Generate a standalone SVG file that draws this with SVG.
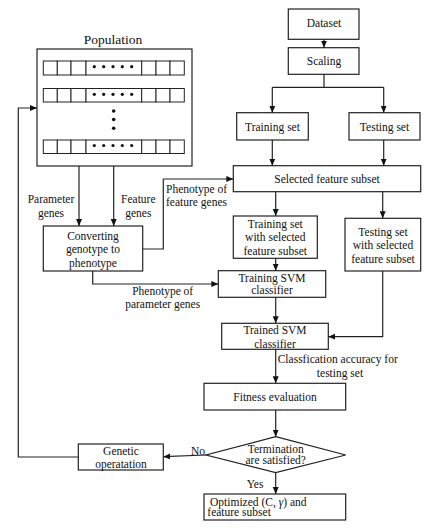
<svg xmlns="http://www.w3.org/2000/svg" width="433" height="530" viewBox="0 0 433 530">
<style>
rect,polygon.d{fill:#fff;stroke:#222;stroke-width:1.2}
.c rect{fill:#fff;stroke:#222;stroke-width:1}
text{font-family:"Liberation Serif","Times New Roman",serif;font-size:11.5px;fill:#111;text-anchor:middle;dominant-baseline:central}
.conn path{fill:none;stroke:#222;stroke-width:1.2}
.dot{fill:#111}
</style>
<defs>
<marker id="ar" markerWidth="8" markerHeight="8" refX="7" refY="4" orient="auto" markerUnits="userSpaceOnUse">
<path d="M0,1 L7,4 L0,7 Z" fill="#111"/>
</marker>
</defs>
<rect width="433" height="530" fill="#fff" style="stroke:none"/>

<g id="population">
<text x="113" y="39" style="font-size:13.5px">Population</text>
<rect x="37" y="49" width="155" height="117"/>
<g class="c">
<rect x="43.3" y="61" width="14" height="14"/><rect x="57.3" y="61" width="13.7" height="14"/><rect x="71" y="61" width="15" height="14"/><rect x="86" y="61" width="55.7" height="14"/><rect x="141.7" y="61" width="14.3" height="14"/><rect x="156" y="61" width="14" height="14"/><rect x="170" y="61" width="14.3" height="14"/>
<rect x="43.3" y="88.5" width="14" height="13.5"/><rect x="57.3" y="88.5" width="13.7" height="13.5"/><rect x="71" y="88.5" width="15" height="13.5"/><rect x="86" y="88.5" width="55.7" height="13.5"/><rect x="141.7" y="88.5" width="14.3" height="13.5"/><rect x="156" y="88.5" width="14" height="13.5"/><rect x="170" y="88.5" width="14.3" height="13.5"/>
<rect x="43.3" y="140" width="14" height="13.5"/><rect x="57.3" y="140" width="13.7" height="13.5"/><rect x="71" y="140" width="15" height="13.5"/><rect x="86" y="140" width="55.7" height="13.5"/><rect x="141.7" y="140" width="14.3" height="13.5"/><rect x="156" y="140" width="14" height="13.5"/><rect x="170" y="140" width="14.3" height="13.5"/>
</g>
<g class="dot">
<circle cx="94.3" cy="66.7" r="1.6"/><circle cx="103.7" cy="66.7" r="1.6"/><circle cx="113" cy="66.7" r="1.6"/><circle cx="122.3" cy="66.7" r="1.6"/><circle cx="131.7" cy="66.7" r="1.6"/>
<circle cx="94.3" cy="94.3" r="1.6"/><circle cx="103.7" cy="94.3" r="1.6"/><circle cx="113" cy="94.3" r="1.6"/><circle cx="122.3" cy="94.3" r="1.6"/><circle cx="131.7" cy="94.3" r="1.6"/>
<circle cx="94.3" cy="145.5" r="1.6"/><circle cx="103.7" cy="145.5" r="1.6"/><circle cx="113" cy="145.5" r="1.6"/><circle cx="122.3" cy="145.5" r="1.6"/><circle cx="131.7" cy="145.5" r="1.6"/>
<circle cx="113.7" cy="111" r="1.8"/><circle cx="113.7" cy="119.5" r="1.8"/><circle cx="113.7" cy="128.3" r="1.8"/>
</g>
</g>

<g id="dataset"><rect x="288.3" y="9" width="70.7" height="30.3"/><text x="324" y="23">Dataset</text></g>
<g id="scaling"><rect x="288.3" y="47.7" width="70.7" height="26.6"/><text x="324" y="61">Scaling</text></g>
<g id="training-set"><rect x="236.7" y="112.7" width="71.6" height="27.3"/><text x="272.5" y="126.7">Training set</text></g>
<g id="testing-set"><rect x="349" y="112.7" width="71" height="27.3"/><text x="384.5" y="126.7">Testing set</text></g>
<g id="selected"><rect x="233.3" y="165.7" width="187.4" height="26"/><text x="327" y="179">Selected feature subset</text></g>
<g id="converting"><rect x="43.3" y="226" width="99.4" height="45"/><text x="93" y="235.5">Converting</text><text x="93" y="249">genotype to</text><text x="93" y="262.5">phenotype</text></g>
<g id="train-sel"><rect x="233.3" y="216" width="84" height="42.3"/><text x="275.3" y="223.5">Training set</text><text x="275.3" y="237.3">with selected</text><text x="275.3" y="250.7">feature subset</text></g>
<g id="test-sel"><rect x="345" y="218.3" width="75.7" height="52.7"/><text x="383" y="231.7">Testing set</text><text x="383" y="245">with selected</text><text x="383" y="258.5">feature subset</text></g>
<g id="train-svm"><rect x="218.3" y="270.7" width="107.4" height="26.6"/><text x="272" y="278">Training SVM</text><text x="272" y="290">classifier</text></g>
<g id="trained-svm"><rect x="221.7" y="323.3" width="106.6" height="26"/><text x="275" y="329.5">Trained SVM</text><text x="275" y="343.5">classifier</text></g>
<g id="fitness"><rect x="204" y="383.3" width="141.7" height="26.7"/><text x="275" y="396.7">Fitness evaluation</text></g>
<g id="termination"><polygon class="d" points="275.7,436.7 345.7,455 275.7,472.7 206,455"/><text x="275.7" y="448.5">Termination</text><text x="275.7" y="460">are satisfied?</text></g>
<g id="genetic"><rect x="78.3" y="444" width="85" height="26"/><text x="121" y="450.5">Genetic</text><text x="121" y="464">operatation</text></g>
<g id="optimized"><rect x="204" y="494" width="141.7" height="26"/><text x="210" y="501.5" style="text-anchor:start">Optimized (C, <tspan font-style="italic">γ</tspan>) and</text><text x="207.3" y="512" style="text-anchor:start">feature subset</text></g>

<g class="conn">
<path d="M324,39.3 V47.7" marker-end="url(#ar)"/>
<path d="M324,74.3 V87.3 M272.3,87.3 H383.7"/>
<path d="M272.3,87.3 V112.7" marker-end="url(#ar)"/>
<path d="M383.7,87.3 V112.7" marker-end="url(#ar)"/>
<path d="M272.3,140 V165.7" marker-end="url(#ar)"/>
<path d="M383.7,140 V165.7" marker-end="url(#ar)"/>
<path d="M79,166 V226" marker-end="url(#ar)"/>
<path d="M113.7,166 V226" marker-end="url(#ar)"/>
<path d="M142.7,249 H163.3 V179 H233.3" marker-end="url(#ar)"/>
<path d="M92.7,271 V284 H218.3" marker-end="url(#ar)"/>
<path d="M275.7,191.7 V216" marker-end="url(#ar)"/>
<path d="M382.7,191.7 V218.3" marker-end="url(#ar)"/>
<path d="M275.7,258.3 V270.7" marker-end="url(#ar)"/>
<path d="M275.7,297.3 V323.3" marker-end="url(#ar)"/>
<path d="M382.7,271 V336.7 H328.3" marker-end="url(#ar)"/>
<path d="M275.7,349.3 V383.3" marker-end="url(#ar)"/>
<path d="M275.7,410 V436.7" marker-end="url(#ar)"/>
<path d="M206,455 L163.3,456.7" marker-end="url(#ar)"/>
<path d="M275.7,472.7 V494" marker-end="url(#ar)"/>
<path d="M78.3,457 H18.3 V108 H37" marker-end="url(#ar)"/>
</g>
<g id="labels">
<text x="51" y="199">Parameter</text><text x="51" y="212.7">genes</text>
<text x="138.3" y="199">Feature</text><text x="138.3" y="212.7">genes</text>
<text x="196.5" y="189">Phenotype of</text><text x="196.5" y="202.3">feature genes</text>
<text x="162.7" y="290.7">Phenotype of</text><text x="162.7" y="304">parameter genes</text>
<text x="277.7" y="359.3" style="text-anchor:start">Classfication accuracy for</text>
<text x="340" y="373.3">testing set</text>
<text x="198" y="450.7">No</text>
<text x="255" y="484.3">Yes</text>
</g>
</svg>
